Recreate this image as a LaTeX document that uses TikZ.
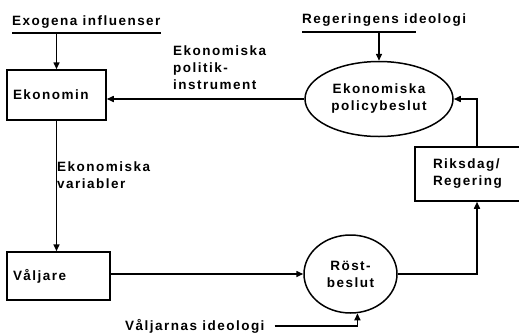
\documentclass[tikz,border=0pt]{standalone}
\usepackage{fontspec}
\setmainfont{Liberation Sans}[LetterSpace=11]
\usepackage{tikz}
\usetikzlibrary{arrows.meta, positioning, shapes.geometric}

\begin{document}
\begin{tikzpicture}[x=1pt, y=-1pt,
every node/.style={font=\fontsize{13.5}{17}\selectfont\bfseries},
flow/.style={line width=1.5pt, -{Triangle[length=7pt,width=6pt]}},
box/.style={draw, line width=1.5pt, rectangle, align=left},
oval/.style={draw, line width=1.5pt, ellipse, align=center, inner sep=0pt},
lbl/.style={inner sep=0pt, align=left}]

\clip (0,0) rectangle (519,333);

% rutor och ovaler
\node[box, minimum width=99pt, minimum height=50pt, text width=87pt, inner xsep=6pt] (ekon) at (56.5,95) {Ekonomin};
\node[box, minimum width=103pt, minimum height=48pt, text width=91pt, inner xsep=6pt] (valj) at (58.5,276) {V\aa ljare};
\node[oval, minimum width=148pt, minimum height=75pt] (pol) at (379,99) {Ekonomiska\\policybeslut};
\node[oval, minimum width=93pt, minimum height=78pt] (rost) at (350.5,274) {R\"ost-\\beslut};
\node[box, minimum width=124pt, minimum height=54pt, text width=88pt, inner xsep=18pt] (riks) at (477,174) {Riksdag/\\Regering};

% yttre texter
\node[lbl, anchor=base west] (exo) at (12,25) {Exogena influenser};
\node[lbl, anchor=base west] (regid) at (302,23) {Regeringens ideologi};
\node[lbl, anchor=base west] (valid) at (125,330) {V\aa ljarnas ideologi};
\node[lbl, anchor=north west] (instr) at (173,46) {Ekonomiska\\politik-\\instrument};
\node[lbl, anchor=north west] (varb) at (57,162) {Ekonomiska\\variabler};

% understrykningar
\draw[line width=1.5pt] ([yshift=-5pt]exo.south west) coordinate (exol) -- ([yshift=-5pt]exo.south east);
\draw[line width=1.5pt] ([yshift=-6pt]regid.south west) coordinate (regl) -- ++(114,0);

% pilar
\draw[flow] (exol -| ekon.north) -- (ekon.north);
\draw[flow] (regl -| pol.north) -- (pol.north);
\draw[flow] (pol.west) -- (pol.west -| ekon.east);
\draw[flow] (ekon.south) -- (ekon.south |- valj.north);
\draw[flow] (valj.east |- rost.west) -- (rost.west);
\draw[flow] (rost.east) -| (riks.south);
\draw[flow] (riks.north) |- (pol.east);
\draw[flow] ([xshift=10pt]valid.east) -| (rost.-80);
\end{tikzpicture}
\end{document}
